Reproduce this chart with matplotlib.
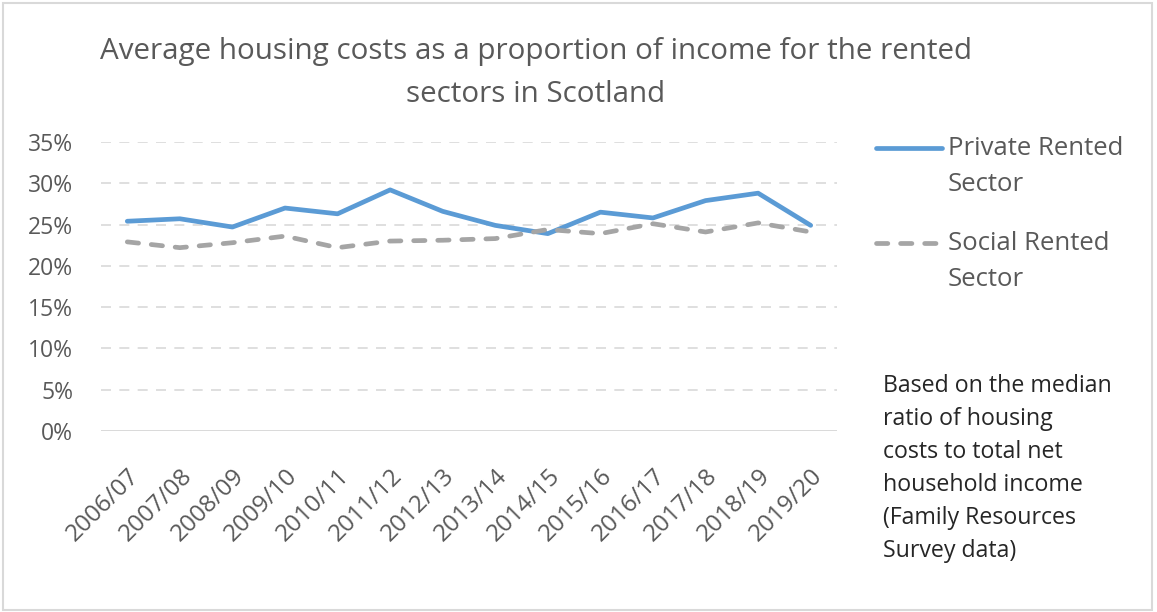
import matplotlib
matplotlib.use('Agg')
from matplotlib import pyplot as plt
from matplotlib.lines import Line2D
from matplotlib.patches import Rectangle
from matplotlib.ticker import PercentFormatter

#----------------------------------
# Data: median housing costs / net household income, Scotland
years = ['2006/07', '2007/08', '2008/09', '2009/10', '2010/11', '2011/12', '2012/13',
         '2013/14', '2014/15', '2015/16', '2016/17', '2017/18', '2018/19', '2019/20']
private_rented = [25.4, 25.7, 24.7, 27.0, 26.3, 29.2, 26.6, 24.9, 23.9, 26.5, 25.8, 27.9, 28.8, 24.9]
social_rented = [22.9, 22.2, 22.8, 23.6, 22.2, 23.0, 23.1, 23.3, 24.4, 23.9, 25.1, 24.1, 25.2, 24.1]
y_ticks = [0, 5, 10, 15, 20, 25, 30, 35]

#----------------------------------
# Styling
plt.rcParams['font.family'] = ['Open Sans', 'DejaVu Sans']
text_grey = '#595959'
blue = '#5B9BD5'
grey = '#A5A5A5'
grid_grey = '#D9D9D9'
line_w = 3.4
social_dashes = (2.4, 2.7)

fig = plt.figure(figsize=(11.57, 6.12), dpi=100)
ax = fig.add_axes([0.0873, 0.2958, 0.6361, 0.4722])

x = list(range(len(years)))
ax.plot(x, private_rented, color=blue, lw=line_w, solid_capstyle='round', solid_joinstyle='round')
ax.plot(x, social_rented, color=grey, lw=line_w, dashes=social_dashes, dash_capstyle='round')

ax.set_xlim(-0.5, len(years) - 0.5)
ax.set_ylim(0, 35)
ax.set_yticks(y_ticks)
ax.yaxis.set_major_formatter(PercentFormatter(decimals=0))
ax.set_xticks(x)
ax.set_xticklabels(years, rotation=45, ha='right', rotation_mode='anchor')

# horizontal gridlines, dashed except the baseline
for t in y_ticks[1:]:
    ax.axhline(t, color=grid_grey, lw=1.2, dashes=(6, 5), zorder=0)
ax.axhline(0, color=grid_grey, lw=1.4, zorder=0)

for side in ax.spines.values():
    side.set_visible(False)
ax.tick_params(axis='both', length=0, colors=text_grey)
ax.tick_params(axis='y', pad=20, labelsize=16.5)
ax.tick_params(axis='x', pad=24, labelsize=17.5)

#----------------------------------
# Title
fig.text(0.463, 0.880, 'Average housing costs as a proportion of income for the rented\nsectors in Scotland',
         ha='center', va='center', fontsize=21.3, color=text_grey, linespacing=1.64)

# Legend: handle sits level with the first line of each two-line label
legend_items = [('Private Rented\nSector', blue, 0.758, 0.7275, None),
                ('Social Rented\nSector', grey, 0.603, 0.5725, social_dashes)]
for label, colour, ypos, text_y, dash in legend_items:
    handle = Line2D([0.757, 0.814], [ypos, ypos], transform=fig.transFigure, color=colour, lw=line_w,
                    solid_capstyle='round', dash_capstyle='round')
    if dash:
        handle.set_dashes(dash)
    fig.add_artist(handle)
    fig.text(0.819, text_y, label, ha='left', va='center', fontsize=18.5, color=text_grey,
             linespacing=1.6)

fig.text(0.763, 0.389, 'Based on the median\nratio of housing\ncosts to total net\nhousehold income\n(Family Resources\nSurvey data)',
         ha='left', va='top', fontsize=16.7, color='#262626', linespacing=1.5)

# light frame round the whole chart
fig.add_artist(Rectangle((0.003, 0.003), 0.993, 0.992, transform=fig.transFigure,
                         fill=False, edgecolor='#D9D9D9', lw=1.5))

fig.savefig('out.png', dpi=100, facecolor='white')
